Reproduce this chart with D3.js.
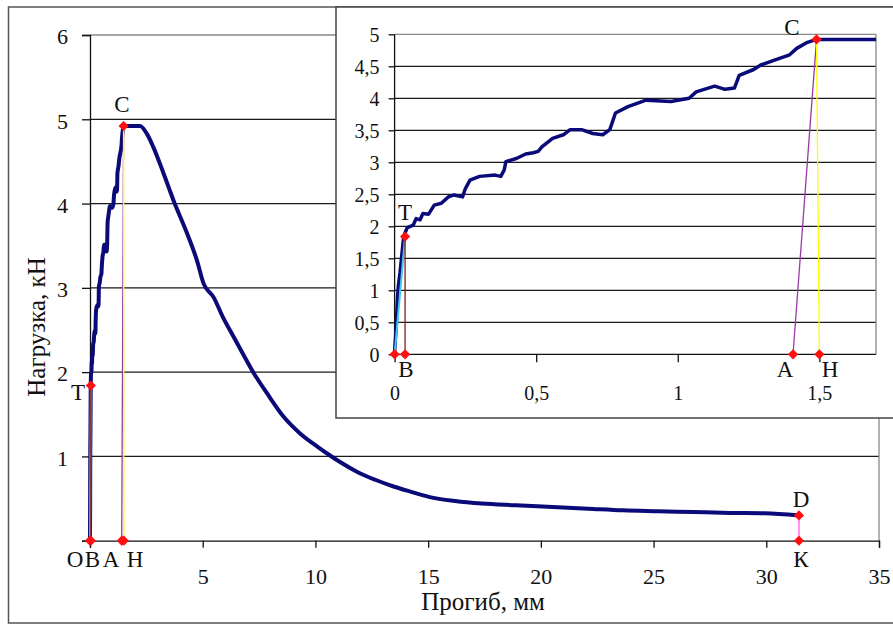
<!DOCTYPE html>
<html>
<head>
<meta charset="utf-8">
<script src="https://cdn.jsdelivr.net/npm/d3@7"></script>
<style>
  html, body { margin: 0; padding: 0; background: #fff; }
  svg { display: block; }
  text { font-family: "Liberation Serif", "Times New Roman", serif; fill: #111; }
</style>
</head>
<body>
<svg id="chart" width="893" height="627"></svg>
<script>
// ---------- DATA ----------
// deflection (mm) of the load–deflection curve
const curveX = [0, 0.001, 0.005, 0.01, 0.013, 0.019, 0.025, 0.031, 0.037, 0.045, 0.066, 0.076, 0.09, 0.1, 0.12, 0.14, 0.165, 0.19, 0.21, 0.24, 0.25, 0.266, 0.30, 0.355, 0.375, 0.387, 0.393, 0.43, 0.463, 0.49, 0.507, 0.52, 0.558, 0.596, 0.62, 0.66, 0.70, 0.735, 0.76, 0.78, 0.824, 0.888, 0.976, 1.04, 1.065, 1.13, 1.167, 1.20, 1.217, 1.268, 1.293, 1.344, 1.395, 1.42, 1.458, 1.49,
  1.7, 2.22, 2.52, 2.81, 3.26, 3.70, 4.30, 4.75, 5.04, 5.48, 5.9, 6.37, 6.8, 7.26, 7.85, 8.59, 9.33, 10.07, 10.6, 11.11, 11.9, 12.68, 13.5, 14.24, 15.03, 16.2, 17.38, 18.9, 20.52, 22.1, 23.65, 25.2, 26.79, 28.4, 29.92, 31.45];
// load (kN)
const curveY = [0, 0.12, 0.38, 0.85, 1.06, 1.27, 1.53, 1.79, 1.9, 1.98, 2.02, 2.12, 2.1, 2.2, 2.19, 2.33, 2.36, 2.46, 2.49, 2.46, 2.59, 2.72, 2.78, 2.80, 2.78, 2.88, 3.01, 3.06, 3.13, 3.15, 3.17, 3.24, 3.375, 3.43, 3.51, 3.51, 3.45, 3.43, 3.51, 3.77, 3.87, 3.97, 3.95, 4.0, 4.10, 4.19, 4.14, 4.16, 4.36, 4.45, 4.52, 4.60, 4.68, 4.78, 4.875, 4.92,
  4.92, 4.92, 4.83, 4.67, 4.36, 4.04, 3.65, 3.32, 3.05, 2.89, 2.65, 2.42, 2.21, 1.99, 1.75, 1.47, 1.27, 1.12, 1.02, 0.93, 0.81, 0.72, 0.64, 0.58, 0.52, 0.47, 0.44, 0.42, 0.40, 0.38, 0.36, 0.35, 0.34, 0.33, 0.325, 0.30];

// characteristic points
const pointNames = ["О", "В", "Т", "А", "Н", "С", "D", "К"];
const pointX     = [0, 0.037, 0.037, 1.407, 1.50, 1.49, 31.45, 31.45];
const pointY     = [0, 0, 1.84, 0, 0, 4.92, 0.30, 0];

// helper segments [from, to, colour]
const segFrom   = ["О", "В", "А", "Н", "D"];
const segTo     = ["Т", "Т", "С", "С", "К"];
const segColor  = ["#3cc8ec", "#8b1a1a", "#9a3aa8", "#ffff00", "#ff55ff"];

// axes / ticks
const mainXTicks = [0, 5, 10, 15, 20, 25, 30, 35];
const mainYTicks = [0, 1, 2, 3, 4, 5, 6];
const insetXTicks = [0, 0.5, 1, 1.5];
const insetYTicks = [0, 0.5, 1, 1.5, 2, 2.5, 3, 3.5, 4, 4.5, 5];
const xTitle = "Прогиб, мм";
const yTitle = "Нагрузка, кН";

// ---------- SETUP ----------
const svg = d3.select("#chart");
const ru = d3.formatLocale({decimal: ",", thousands: " ", grouping: [3], currency: ["", ""]});
const fmt = v => ru.format("~g")(v);
const curve = curveX.map((x, i) => ({x, y: curveY[i]}));
const pts = pointNames.map((n, i) => ({n, x: pointX[i], y: pointY[i]}));
const P = n => pts.find(p => p.n === n);

// outer frame
svg.append("rect").attr("x", 8.5).attr("y", 7).attr("width", 920).attr("height", 616)
  .attr("fill", "#fff").attr("stroke", "#555").attr("stroke-width", 1.5);

// ---------- MAIN CHART ----------
const mx = d3.scaleLinear().domain([0, 35]).range([90, 879]);
const my = d3.scaleLinear().domain([0, 6]).range([540.7, 35]);
const main = svg.append("g");

// gridlines
main.append("g").selectAll("line").data(mainYTicks.filter(d => d > 0)).join("line")
  .attr("x1", mx(0)).attr("x2", mx(35)).attr("y1", d => my(d)).attr("y2", d => my(d))
  .attr("stroke", d => d === 6 ? "#888" : "#1a1a1a").attr("stroke-width", 1.3);
main.append("line").attr("x1", mx(35)).attr("x2", mx(35)).attr("y1", my(6)).attr("y2", my(0))
  .attr("stroke", "#888").attr("stroke-width", 1.3);

const mxAxis = main.append("g").attr("transform", `translate(0,${my(0)})`)
  .call(d3.axisBottom(mx).tickValues(mainXTicks).tickSize(7).tickPadding(21)
    .tickFormat(d => d === 0 ? "" : fmt(d)));
const myAxis = main.append("g").attr("transform", `translate(${mx(0)},0)`)
  .call(d3.axisLeft(my).tickValues(mainYTicks).tickSize(8).tickPadding(14)
    .tickFormat(d => d === 0 ? "" : fmt(d)));
[mxAxis, myAxis].forEach(a => {
  a.select(".domain").attr("stroke", "#111").attr("stroke-width", 1.3);
  a.selectAll(".tick line").attr("stroke", "#111").attr("stroke-width", 1.3);
  a.selectAll("text").style("font-family", "Liberation Serif").style("font-size", "22px").attr("fill", "#111");
});
myAxis.selectAll("text").attr("dy", "0.4em");

const mainLine = d3.line().curve(d3.curveMonotoneX).x(d => mx(d.x)).y(d => my(d.y));
function drawLayer(g, xs, ys, lineGen, lw, names, labelPos, clipId) {
  const inner = clipId ? g.append("g").attr("clip-path", `url(#${clipId})`) : g;
  inner.append("path").datum(curve).attr("d", lineGen).attr("fill", "none")
    .attr("stroke", "#0a0a78").attr("stroke-width", lw).attr("stroke-linejoin", "round");
  segFrom.forEach((f, i) => {
    const a = P(f), b = P(segTo[i]);
    if (!names.includes(f) || !names.includes(segTo[i])) return;
    inner.append("line").attr("x1", xs(a.x)).attr("y1", ys(a.y)).attr("x2", xs(b.x)).attr("y2", ys(b.y))
      .attr("stroke", segColor[i]).attr("stroke-width", f === "О" ? 2 : 1.3);
  });
  const sym = d3.symbol().type(d3.symbolSquare).size(52);
  g.append("g").selectAll("path").data(pts.filter(p => names.includes(p.n))).join("path")
    .attr("d", sym).attr("fill", "#ff1010")
    .attr("transform", p => `translate(${xs(p.x)},${ys(p.y)}) rotate(45)`);
  g.append("g").selectAll("text").data(pts.filter(p => labelPos[p.n])).join("text")
    .attr("x", p => labelPos[p.n][0]).attr("y", p => labelPos[p.n][1])
    .attr("text-anchor", "middle").style("font-size", "23px").text(p => p.n);
}
drawLayer(main, mx, my, mainLine, 4, pointNames,
  {"О": [75, 567], "В": [92.5, 567], "А": [111, 567], "Н": [135, 567], "Т": [78, 400], "С": [122, 112], "D": [801, 507], "К": [801, 567]}, null);

// axis titles
svg.append("text").attr("x", 483).attr("y", 610).attr("text-anchor", "middle")
  .style("font-size", "25px").text(xTitle);
svg.append("text").attr("transform", "translate(45,327) rotate(-90)").attr("text-anchor", "middle")
  .style("font-size", "25px").text(yTitle);

// ---------- INSET ----------
const ix = d3.scaleLinear().domain([0, 1.7]).range([394.6, 876]);
const iy = d3.scaleLinear().domain([0, 5]).range([354.3, 34.3]);
const inset = svg.append("g");
inset.append("rect").attr("x", 336).attr("y", 7).attr("width", 600).attr("height", 411)
  .attr("fill", "#fff").attr("stroke", "#444").attr("stroke-width", 1.5);
svg.append("defs").append("clipPath").attr("id", "iclip").append("rect")
  .attr("x", ix(0) - 6).attr("y", iy(5) - 6).attr("width", ix(1.7) - ix(0) + 6).attr("height", iy(0) - iy(5) + 12);

inset.append("g").selectAll("line").data(insetYTicks.filter(d => d > 0)).join("line")
  .attr("x1", ix(0)).attr("x2", ix(1.7)).attr("y1", d => iy(d)).attr("y2", d => iy(d))
  .attr("stroke", d => d === 5 ? "#888" : "#1a1a1a").attr("stroke-width", 1.3);
inset.append("line").attr("x1", ix(1.7)).attr("x2", ix(1.7)).attr("y1", iy(5)).attr("y2", iy(0))
  .attr("stroke", "#888").attr("stroke-width", 1.3);

const ixAxis = inset.append("g").attr("transform", `translate(0,${iy(0)})`)
  .call(d3.axisBottom(ix).tickValues(insetXTicks).tickSize(8).tickPadding(24).tickFormat(fmt));
const iyAxis = inset.append("g").attr("transform", `translate(${ix(0)},0)`)
  .call(d3.axisLeft(iy).tickValues(insetYTicks).tickSize(6).tickPadding(9).tickFormat(fmt));
[ixAxis, iyAxis].forEach(a => {
  a.select(".domain").attr("stroke", "#111").attr("stroke-width", 1.3);
  a.selectAll(".tick line").attr("stroke", "#111").attr("stroke-width", 1.3);
  a.selectAll("text").style("font-family", "Liberation Serif").style("font-size", "20px").attr("fill", "#111");
});
ixAxis.select(".domain").attr("d", `M${ix(0)},0H${ix(1.7)}`);
iyAxis.select(".domain").attr("d", `M0,${iy(5)}V${iy(0)}`);
iyAxis.selectAll("text").attr("dy", "0.36em");

const insetLine = d3.line().x(d => ix(d.x)).y(d => iy(d.y));
drawLayer(inset, ix, iy, insetLine, 3.5, ["О", "В", "Т", "А", "Н", "С"],
  {"Т": [405, 220], "В": [406, 377], "А": [785, 377], "Н": [830, 377], "С": [792, 35]}, "iclip");
</script>
</body>
</html>
